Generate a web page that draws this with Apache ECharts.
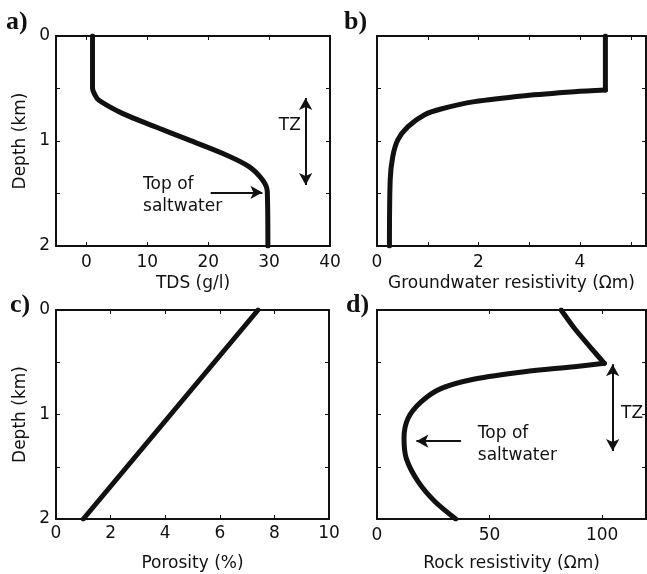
<!DOCTYPE html>
<html><head><meta charset="utf-8">
<script src="https://cdn.jsdelivr.net/npm/echarts@6/dist/echarts.min.js"></script>
<style>html,body{margin:0;padding:0;background:#fff}#c{width:647px;height:574px}</style>
</head><body><div id="c"></div>
<script>
// ---- Data ----
const depthTicks = [0, 0.5, 1, 1.5, 2];
const depthLabels = [0, 1, 2];

// a) TDS (g/l)
const tdsDepth = [0, 0.50, 0.55, 0.61, 0.737, 0.864, 0.99, 1.117, 1.244, 1.37, 1.48, 2];
const tdsValue = [1, 1, 1.3, 2.0, 5.9, 11.3, 16.8, 22.3, 26.7, 28.9, 29.7, 29.8];
const tdsTicks = [0, 10, 20, 30, 40];

// b) Groundwater resistivity (Ωm)
const gwDepth = [0, 0.514, 0.530, 0.568, 0.625, 0.695, 0.752, 0.863, 0.99, 1.15, 1.37, 2];
const gwValue = [4.5, 4.5, 3.89, 2.91, 1.92, 1.26, 0.93, 0.61, 0.41, 0.31, 0.26, 0.245];
const gwTicks = [0, 1, 2, 3, 4, 5];
const gwLabels = [0, 2, 4];

// c) Porosity (%)
const porDepth = [0, 1, 2];
const porValue = [7.4, 4.2, 1.0];
const porTicks = [0, 2, 4, 6, 8, 10];

// d) Rock resistivity (Ωm)
const rockDepth = [0, 0.175, 0.367, 0.51, 0.543, 0.59, 0.66, 0.75, 0.877, 1.036, 1.228, 1.42, 1.64, 1.83, 2];
const rockValue = [81.8, 87.7, 95.2, 101, 87.7, 65.5, 43.4, 28.6, 19.7, 13.8, 12.0, 13.0, 18.2, 25.6, 35];
const rockTicks = [0, 50, 100];

// index of the sharp corner in each curve (curve drawn as two pieces there)
const gwCorner = 1;
const rockCorner = 3;

// annotations (data coordinates)
const tzArrowA = [[36, 0.59], [36, 1.42]];
const tzTextA = [35.2, 0.85];
const saltArrowA = [[20.4, 1.49], [28.9, 1.49]];
const saltTextA = [9.3, 1.52];
const tzArrowD = [[104.7, 0.52], [104.7, 1.35]];
const tzTextD = [108.4, 0.99];
const saltArrowD = [[37.3, 1.255], [17.5, 1.255]];
const saltTextD = [44.8, 1.29];

// ---- Chart ----
const FONT = 'DejaVu Sans';
const FS = 17;
const BLACK = '#111';

function zip(v, d) { return v.map((x, i) => [x, d[i]]); }

const grids = [
  {left: 56, top: 36, width: 274, height: 210},
  {left: 377, top: 36, width: 269, height: 210},
  {left: 56, top: 310, width: 273, height: 209},
  {left: 377, top: 310, width: 269, height: 209}
].map(g => Object.assign(g, {show: true, borderColor: BLACK, borderWidth: 2, backgroundColor: '#fff'}));

const xAxes = [], yAxes = [];
function addX(gi, min, max, ticks, labels, name, nameGap, margin) {
  xAxes.push({
    type: 'value', gridIndex: gi, min, max, position: 'bottom',
    axisLine: {show: false, onZero: false},
    splitLine: {show: false},
    axisTick: {show: true, inside: true, length: 4, customValues: ticks, lineStyle: {color: BLACK, width: 1}},
    axisLabel: {show: true, customValues: labels, margin: margin, color: BLACK, fontFamily: FONT, fontSize: FS},
    name, nameLocation: 'middle', nameGap,
    nameTextStyle: {color: BLACK, fontFamily: FONT, fontSize: FS}
  });
  xAxes.push({
    type: 'value', gridIndex: gi, min, max, position: 'top',
    axisLine: {show: false, onZero: false}, splitLine: {show: false},
    axisTick: {show: true, inside: true, length: 4, customValues: ticks, lineStyle: {color: BLACK, width: 1}},
    axisLabel: {show: false}
  });
}
function addY(gi, showLabels) {
  yAxes.push({
    type: 'value', gridIndex: gi, min: 0, max: 2, inverse: true, position: 'left',
    axisLine: {show: false, onZero: false}, splitLine: {show: false},
    axisTick: {show: true, inside: true, length: 4, customValues: depthTicks, lineStyle: {color: BLACK, width: 1}},
    axisLabel: {show: showLabels, customValues: depthLabels, margin: 6, color: BLACK, fontFamily: FONT, fontSize: FS},
    name: showLabels ? 'Depth (km)' : '', nameLocation: 'middle', nameGap: 27, nameRotate: 90,
    nameTextStyle: {color: BLACK, fontFamily: FONT, fontSize: FS}
  });
  yAxes.push({
    type: 'value', gridIndex: gi, min: 0, max: 2, inverse: true, position: 'right',
    axisLine: {show: false, onZero: false}, splitLine: {show: false},
    axisTick: {show: true, inside: true, length: 4, customValues: depthTicks, lineStyle: {color: BLACK, width: 1}},
    axisLabel: {show: false}
  });
}
addX(0, -5, 40, tdsTicks, tdsTicks, 'TDS (g/l)', 29, 8);
addX(1, 0, 5.3, gwTicks, gwLabels, 'Groundwater resistivity (Ωm)', 29, 8);
addX(2, 0, 10, porTicks, porTicks, 'Porosity (%)', 36, 6);
addX(3, 0, 119.5, rockTicks, rockTicks, 'Rock resistivity (Ωm)', 36, 8);
addY(0, true); addY(1, false); addY(2, true); addY(3, false);

const arrowStyle = {color: BLACK, width: 2, type: 'solid'};
function arrowLine(pts, both) {
  return [
    {coord: pts[0], symbol: both ? 'arrow' : 'none', symbolSize: [10, 12]},
    {coord: pts[1], symbol: 'arrow', symbolSize: [10, 12]}
  ];
}
function textPt(coord, text, pos) {
  return {coord, name: text, symbol: 'circle', symbolSize: 0,
    label: {show: true, position: pos, distance: 0, formatter: '{b}', color: BLACK,
      fontFamily: FONT, fontSize: FS, lineHeight: 22, align: pos === 'left' ? 'right' : 'left'}};
}

function lineSeries(gi, data, smooth, marks) {
  const s = {
    type: 'line', xAxisIndex: gi * 2, yAxisIndex: gi * 2, data,
    showSymbol: false, symbol: 'none', smooth: smooth,
    lineStyle: {color: BLACK, width: 5, cap: 'round', join: 'round'},
    z: 5, silent: true
  };
  if (marks) {
    s.markLine = {silent: true, animation: false, lineStyle: arrowStyle, label: {show: false},
      symbol: ['none', 'arrow'], data: marks.lines};
    s.markPoint = {silent: true, animation: false, data: marks.texts};
  }
  return s;
}

const tdsData = zip(tdsValue, tdsDepth);
const gwData = zip(gwValue, gwDepth);
const porData = zip(porValue, porDepth);
const rockData = zip(rockValue, rockDepth);

const option = {
  animation: false,
  backgroundColor: '#fff',
  textStyle: {fontFamily: FONT},
  grid: grids,
  xAxis: xAxes,
  yAxis: yAxes,
  series: [
    lineSeries(0, tdsData, 0.3, {
      lines: [arrowLine(tzArrowA, true), arrowLine(saltArrowA, false)],
      texts: [textPt(tzTextA, 'TZ', 'left'), textPt(saltTextA, 'Top of\nsaltwater', 'right')]
    }),
    lineSeries(1, gwData.slice(0, gwCorner + 1), false),
    lineSeries(1, gwData.slice(gwCorner), 0.3),
    lineSeries(2, porData, false),
    lineSeries(3, rockData.slice(0, rockCorner + 1), 0.2, {
      lines: [arrowLine(tzArrowD, true), arrowLine(saltArrowD, false)],
      texts: [textPt(tzTextD, 'TZ', 'right'), textPt(saltTextD, 'Top of\nsaltwater', 'right')]
    }),
    lineSeries(3, rockData.slice(rockCorner), 0.3)
  ],
  graphic: [
    {type: 'text', left: 6, top: 9, style: {text: 'a)', font: 'bold 26px "Liberation Serif"', fill: BLACK}},
    {type: 'text', left: 344, top: 9, style: {text: 'b)', font: 'bold 26px "Liberation Serif"', fill: BLACK}},
    {type: 'text', left: 10, top: 292, style: {text: 'c)', font: 'bold 26px "Liberation Serif"', fill: BLACK}},
    {type: 'text', left: 346, top: 292, style: {text: 'd)', font: 'bold 26px "Liberation Serif"', fill: BLACK}}
  ]
};

const chart = echarts.init(document.getElementById('c'), null, {renderer: 'canvas'});
chart.setOption(option);
</script>
</body></html>
